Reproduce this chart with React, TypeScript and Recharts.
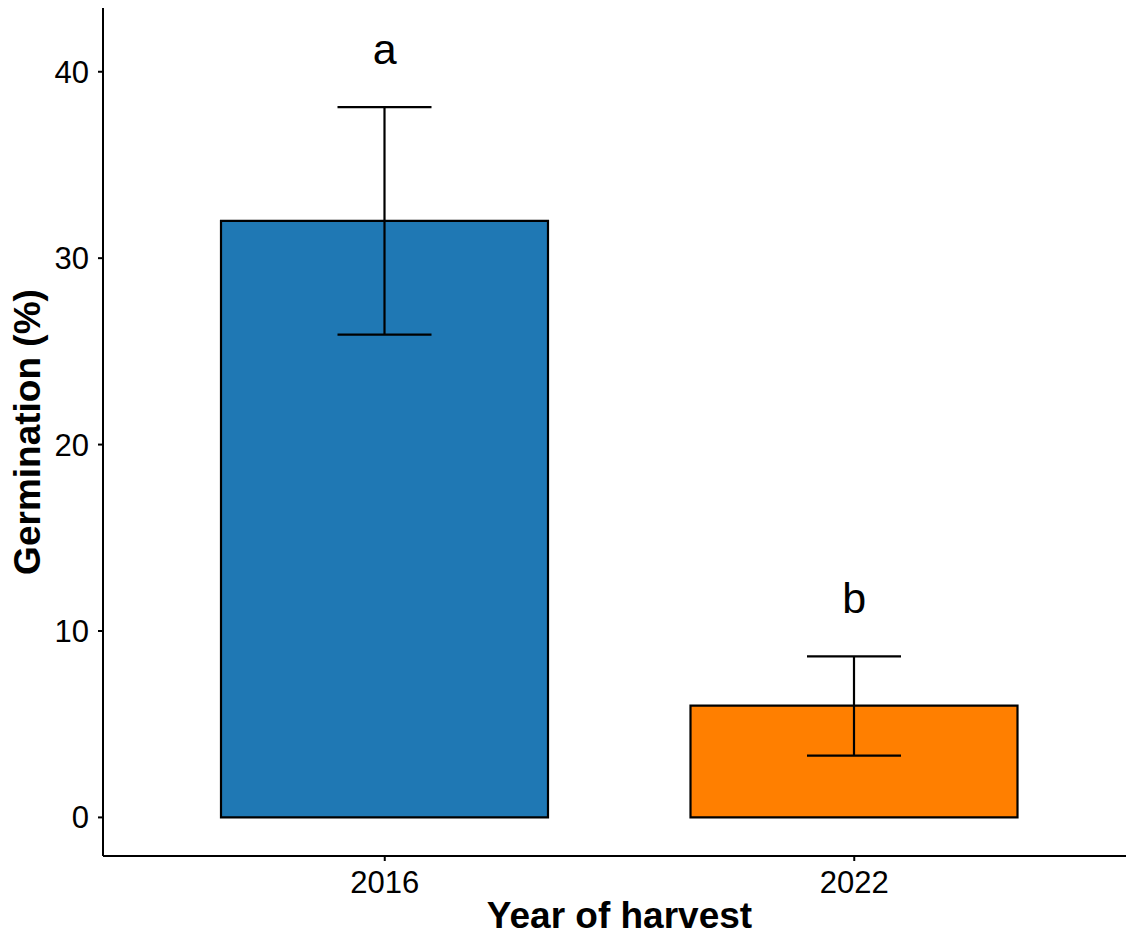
import React from 'react';
import { ComposedChart, Bar, Cell, ErrorBar, XAxis, YAxis, Line, LabelList, Label } from 'recharts';

const years = ['2016', '2022'];
const means = [32.0, 6.0];
const lowerCI = [25.9, 3.31];
const upperCI = [38.1, 8.64];
const letters = ['a', 'b'];
const letterPos = [41.2, 11.7];
const barColors = ['#1F78B4', '#FF7F00'];
const yTicks = [0, 10, 20, 30, 40];
const yDomain = [-2.07, 43.42];

const data = years.map((year, i) => ({
  year,
  mean: means[i],
  err: [means[i] - lowerCI[i], upperCI[i] - means[i]],
  letterY: letterPos[i],
  letter: letters[i],
}));

const FONT = '"Liberation Sans", Arial, Helvetica, sans-serif';

const XTitle = (props: any) => {
  const vb = props.viewBox || { x: 103, y: 856, width: 1023, height: 80 };
  return (
    <text
      x={vb.x + vb.width / 2 + 5}
      y={vb.y + vb.height - 8}
      textAnchor="middle"
      fontSize={37}
      fontWeight="bold"
      fill="#000"
      fontFamily={FONT}
    >
      Year of harvest
    </text>
  );
};

const YTitle = (props: any) => {
  const vb = props.viewBox || { x: 0, y: 8, width: 103, height: 848 };
  const cx = vb.x + 40;
  const cy = vb.y + vb.height / 2;
  return (
    <text
      x={cx}
      y={cy}
      transform={`rotate(-90, ${cx}, ${cy})`}
      textAnchor="middle"
      fontSize={37}
      fontWeight="bold"
      fill="#000"
      fontFamily={FONT}
    >
      Germination (%)
    </text>
  );
};

const LetterLabel = (props: any) => {
  const { x, y, value } = props;
  return (
    <text x={x} y={y} dy="0.33em" textAnchor="middle" fontSize={43} fill="#000" fontFamily={FONT}>
      {value}
    </text>
  );
};

export default function App() {
  return (
    <div
      style={{
        position: 'absolute',
        left: 0,
        top: 0,
        width: 1126,
        height: 936,
        background: '#fff',
        fontFamily: FONT,
      }}
    >
      <ComposedChart width={1126} height={936} data={data} margin={{ top: 8, right: 0, bottom: 0, left: 0 }}>
        <XAxis
          dataKey="year"
          type="category"
          height={80}
          padding={{ left: 47, right: 37 }}
          axisLine={{ stroke: '#000', strokeWidth: 2 }}
          tickLine={{ stroke: '#000', strokeWidth: 2 }}
          tickSize={5}
          tickMargin={10}
          tick={{ fill: '#000', fontSize: 31, fontFamily: FONT }}
        >
          <Label content={XTitle} />
        </XAxis>
        <YAxis
          type="number"
          domain={yDomain}
          allowDataOverflow
          ticks={yTicks}
          width={103}
          axisLine={{ stroke: '#000', strokeWidth: 2 }}
          tickLine={{ stroke: '#000', strokeWidth: 2 }}
          tickSize={5}
          tickMargin={9}
          tick={{ fill: '#000', fontSize: 31, fontFamily: FONT }}
        >
          <Label content={YTitle} />
        </YAxis>
        <Bar dataKey="mean" barSize={327} stroke="#000" strokeWidth={2.2} isAnimationActive={false}>
          {data.map((d, i) => (
            <Cell key={d.year} fill={barColors[i]} />
          ))}
          <ErrorBar dataKey="err" width={47} stroke="#000" strokeWidth={2.2} isAnimationActive={false} />
        </Bar>
        <Line
          dataKey="letterY"
          stroke="none"
          dot={false}
          activeDot={false}
          isAnimationActive={false}
          legendType="none"
        >
          <LabelList dataKey="letter" content={LetterLabel} />
        </Line>
      </ComposedChart>
    </div>
  );
}
